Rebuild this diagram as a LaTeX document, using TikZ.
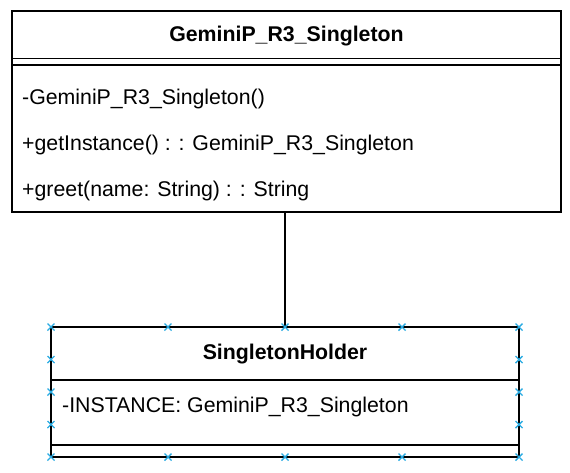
\documentclass[tikz,border=0pt]{standalone}
\usepackage{fontspec}
\setmainfont{Liberation Sans}
\definecolor{handle}{RGB}{41,171,226}
\begin{document}
\begin{tikzpicture}[x=1pt,y=-1pt,
  classbox/.style={draw=black,line width=1.8pt,inner sep=0pt,fill=white},
  sepline/.style={draw=black,line width=1.8pt},
  title/.style={font=\fontsize{21.3}{25}\selectfont\bfseries,inner sep=0pt},
  member/.style={font=\fontsize{21.3}{25}\selectfont,anchor=west,inner sep=0pt},
  handlemark/.style={draw=handle,line width=1.4pt}]
\useasboundingbox (0,0) rectangle (570,472);
% top class
\node[classbox,minimum width=549pt,minimum height=201pt] (top) at (286.5,111.5) {};
\node[title] (toptitle) at (286.5,36) {GeminiP\_R3\_Singleton};
\draw[sepline] (12,58.5) -- (561,58.5);
\draw[sepline] (12,65) -- (561,65);
\node[member] (m1) at (22,98.5) {-GeminiP\_R3\_Singleton()};
\node[member] (m2) at (22,144.5) {+getInstance() : : GeminiP\_R3\_Singleton};
\node[member] (m3) at (22,190.5) {+greet(name: String) : : String};
% bottom class
\node[classbox,minimum width=468pt,minimum height=130pt] (holder) at (285,392) {};
\node[title] (holdertitle) at (285,354) {SingletonHolder};
\draw[sepline] (51,380) -- (519,380);
\node[member] (a1) at (62,406.5) {-INSTANCE: GeminiP\_R3\_Singleton};
\draw[sepline] (51,445) -- (519,445);
% connector
\draw[line width=1.8pt] (top.south -| holder.north) -- (holder.north);
% selection handles
\foreach \px/\py in {51/327,168/327,285/327,402/327,519/327,
                     51/457,168/457,285/457,402/457,519/457,
                     51/359.5,51/392,51/424.5,519/359.5,519/392,519/424.5}{
  \draw[handlemark] (\px-3.5,\py-3.5) -- (\px+3.5,\py+3.5) (\px-3.5,\py+3.5) -- (\px+3.5,\py-3.5);
}
\end{tikzpicture}
\end{document}
